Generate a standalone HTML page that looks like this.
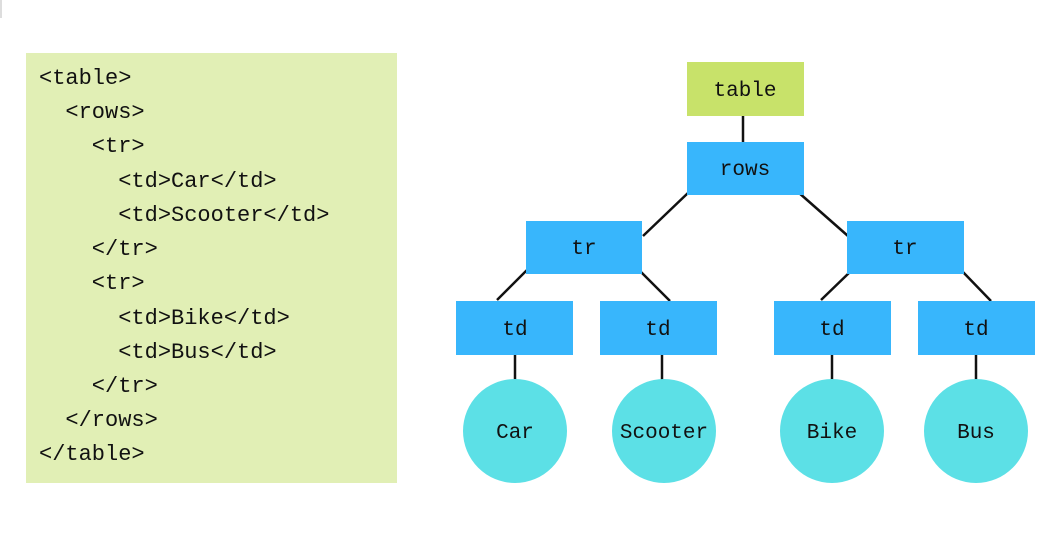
<!DOCTYPE html>
<html><head><style>
body{margin:0;width:1059px;height:533px;background:#fff;position:relative;overflow:hidden;font-family:"Liberation Mono",monospace}
.code{position:absolute;left:26px;top:53px;width:371px;height:430px;background:#e1efb5}
.code div{position:absolute;font-size:22px;color:#111;white-space:pre;line-height:24px}
</style></head><body>
<div style="position:absolute;left:0;top:0;width:2px;height:18px;background:#ddd"></div>
<div class="code">
<div style="left:13px;top:14px">&lt;table&gt;</div>
<div style="left:13px;top:48px">  &lt;rows&gt;</div>
<div style="left:13px;top:82px">    &lt;tr&gt;</div>
<div style="left:13px;top:117px">      &lt;td&gt;Car&lt;/td&gt;</div>
<div style="left:13px;top:151px">      &lt;td&gt;Scooter&lt;/td&gt;</div>
<div style="left:13px;top:185px">    &lt;/tr&gt;</div>
<div style="left:13px;top:219px">    &lt;tr&gt;</div>
<div style="left:13px;top:254px">      &lt;td&gt;Bike&lt;/td&gt;</div>
<div style="left:13px;top:288px">      &lt;td&gt;Bus&lt;/td&gt;</div>
<div style="left:13px;top:322px">    &lt;/tr&gt;</div>
<div style="left:13px;top:356px">  &lt;/rows&gt;</div>
<div style="left:13px;top:390px">&lt;/table&gt;</div>
</div>
<svg width="1059" height="533" style="position:absolute;left:0;top:0" font-family="Liberation Mono, monospace" font-size="21" text-anchor="middle">
<g stroke="#111" stroke-width="2.5">
<line x1="743" y1="116" x2="743" y2="142"/>
<line x1="689" y1="192" x2="643" y2="236"/>
<line x1="798" y1="192" x2="848" y2="236"/>
<line x1="527" y1="270" x2="497" y2="300"/>
<line x1="640" y1="271" x2="670" y2="301"/>
<line x1="851" y1="271" x2="821" y2="300"/>
<line x1="962" y1="271" x2="991" y2="301"/>
<line x1="515" y1="355" x2="515" y2="380"/>
<line x1="662" y1="355" x2="662" y2="380"/>
<line x1="832" y1="355" x2="832" y2="380"/>
<line x1="976" y1="355" x2="976" y2="380"/>
</g>
<rect x="687" y="62" width="117" height="54" fill="#c8e26a"/>
<rect x="687" y="142" width="117" height="53" fill="#38b6fc"/>
<rect x="526" y="221" width="116" height="53" fill="#38b6fc"/>
<rect x="847" y="221" width="117" height="53" fill="#38b6fc"/>
<rect x="456" y="301" width="117" height="54" fill="#38b6fc"/>
<rect x="600" y="301" width="117" height="54" fill="#38b6fc"/>
<rect x="774" y="301" width="117" height="54" fill="#38b6fc"/>
<rect x="918" y="301" width="117" height="54" fill="#38b6fc"/>
<circle cx="515" cy="431" r="52" fill="#5ce0e6"/>
<circle cx="664" cy="431" r="52" fill="#5ce0e6"/>
<circle cx="832" cy="431" r="52" fill="#5ce0e6"/>
<circle cx="976" cy="431" r="52" fill="#5ce0e6"/>
<g fill="#111">
<text x="745" y="96">table</text>
<text x="745" y="175">rows</text>
<text x="584" y="254">tr</text>
<text x="905" y="254">tr</text>
<text x="515" y="335">td</text>
<text x="658" y="335">td</text>
<text x="832" y="335">td</text>
<text x="976" y="335">td</text>
<text x="515" y="438">Car</text>
<text x="664" y="438">Scooter</text>
<text x="832" y="438">Bike</text>
<text x="976" y="438">Bus</text>
</g>
</svg>
</body></html>
